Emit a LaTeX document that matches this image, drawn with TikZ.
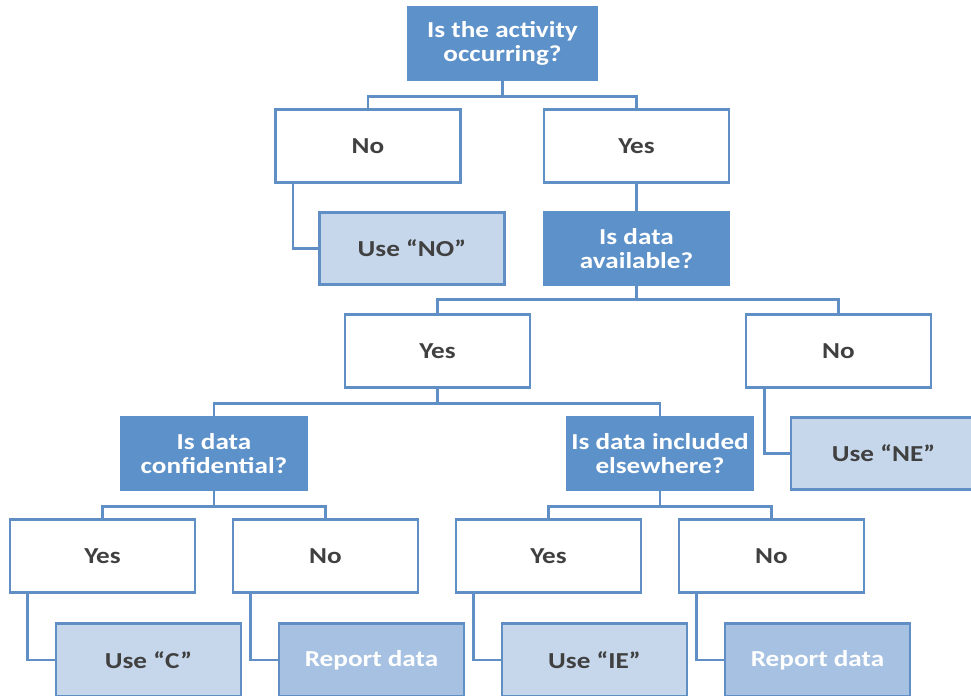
\documentclass[tikz,border=0pt]{standalone}
\usepackage{fontspec}
\setmainfont{Carlito}[FakeStretch=1.19]
\definecolor{qblue}{HTML}{5D91C9}
\definecolor{edgeblue}{HTML}{5F8FC4}
\definecolor{useblue}{HTML}{C6D7EB}
\definecolor{repblue}{HTML}{A6C1E1}
\definecolor{txtgrey}{HTML}{404040}
\tikzset{
    box/.style={draw=edgeblue, line width=2.4pt, minimum width=5.55cm, minimum height=2.18cm,
        align=center, font=\fontsize{19.5}{20.5}\selectfont\bfseries, text=txtgrey},
    question/.style={box, fill=qblue, draw=qblue, text=white},
    answer/.style={box, fill=white},
    usebox/.style={box, fill=useblue},
    report/.style={box, fill=repblue, text=white},
    link/.style={draw=edgeblue, line width=2.4pt}
}
\begin{document}
\begin{tikzpicture}[x=0.03cm, y=-0.03cm]
    \useasboundingbox (0,0) rectangle (971,696);

    % first question
    \node[question, minimum width=5.67cm] (act) at (502.5,43.5) {Is the activity\\occurring?};
    \node[answer] (actno) at (368,146) {No};
    \node[answer] (actyes) at (636.5,146) {Yes};
    \node[usebox] (useno) at (412,248.5) {Use “NO”};
    \node[question] (avail) at (636.5,248.5) {Is data\\available?};

    % second question
    \node[answer] (availyes) at (437.5,351) {Yes};
    \node[answer] (availno) at (838.5,351) {No};
    \node[usebox] (usene) at (883.5,453.5) {Use “NE”};
    \node[question] (conf) at (214,453.5) {Is data\\confidential?};
    \node[question] (incl) at (660,453.5) {Is data included\\elsewhere?};

    % last row
    \node[answer] (confyes) at (102.5,556) {Yes};
    \node[answer] (confno) at (325.5,556) {No};
    \node[answer] (inclyes) at (548.5,556) {Yes};
    \node[answer] (inclno) at (771.5,556) {No};
    \node[usebox] (usec) at (148.5,660) {Use “C”};
    \node[report] (repa) at (371.5,660) {Report data};
    \node[usebox] (useie) at (594.5,660) {Use “IE”};
    \node[report] (repb) at (817.5,660) {Report data};

    % forks
    \draw[link] (act.south) -- ++(0,15) -| (actno.north);
    \draw[link] (act.south) -- ++(0,15) -| (actyes.north);
    \draw[link] (avail.south) -- ++(0,13) -| (availyes.north);
    \draw[link] (avail.south) -- ++(0,13) -| (availno.north);
    \draw[link] (availyes.south) -- ++(0,15) -| (conf.north);
    \draw[link] (availyes.south) -- ++(0,15) -| (incl.north);
    \draw[link] (conf.south) -- ++(0,15) -| (confyes.north);
    \draw[link] (conf.south) -- ++(0,15) -| (confno.north);
    \draw[link] (incl.south) -- ++(0,15) -| (inclyes.north);
    \draw[link] (incl.south) -- ++(0,15) -| (inclno.north);
    \draw[link] (actyes.south) -- (avail.north);

    % elbows
    \draw[link] (actno.south west) ++(19,0) |- (useno.west);
    \draw[link] (availno.south west) ++(20,0) |- (usene.west);
    \draw[link] (confyes.south west) ++(19,0) |- (usec.west);
    \draw[link] (confno.south west) ++(19,0) |- (repa.west);
    \draw[link] (inclyes.south west) ++(19,0) |- (useie.west);
    \draw[link] (inclno.south west) ++(19,0) |- (repb.west);
\end{tikzpicture}
\end{document}
